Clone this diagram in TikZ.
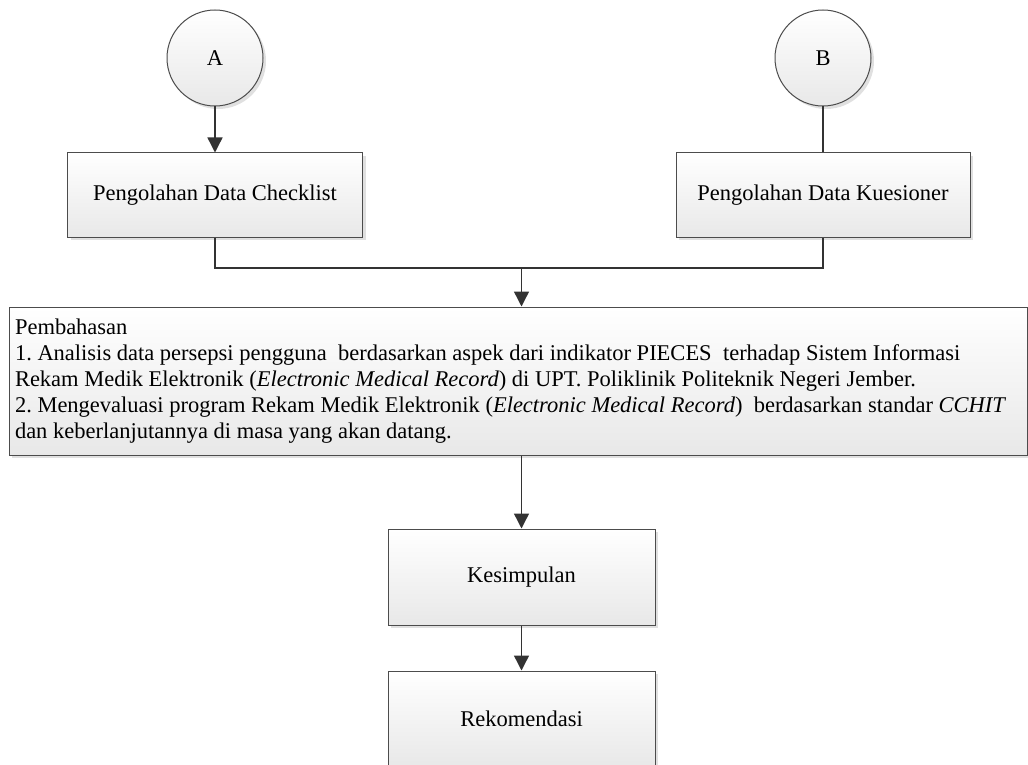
\documentclass[tikz,border=0pt]{standalone}
\usepackage{fontspec}
\setmainfont{Liberation Serif}
\usetikzlibrary{arrows.meta,shadows}

\begin{document}
\begin{tikzpicture}[x=0.5pt, y=-0.5pt,
        font=\fontsize{11.25pt}{13pt}\selectfont\frenchspacing,
        flowbox/.style={rectangle, draw=black!70, line width=0.5pt, top color=white, bottom color=black!9,
            drop shadow={shadow xshift=1.5pt, shadow yshift=-1.5pt, fill=black, opacity=0.12}},
        connnode/.style={circle, draw=black!70, line width=0.5pt, top color=white, bottom color=black!9,
            drop shadow={shadow xshift=1.5pt, shadow yshift=-1.5pt, fill=black, opacity=0.12}, minimum size=48pt},
        flowline/.style={draw=black!80, line width=0.7pt},
        flowarrow/.style={flowline, -{Triangle[length=7.5pt, width=7.5pt]}},
        ]
                \useasboundingbox (0,0) rectangle (1028,765);

                \node[connnode] at(215,58) (A) {A};
                \node[connnode] at(823,58) (B) {B};
                \node[flowbox, minimum width=147.5pt, minimum height=42pt] at(215,195) (ckl) {Pengolahan Data Checklist};
                \node[flowbox, minimum width=147pt, minimum height=42pt] at(823,195) (kues) {Pengolahan Data Kuesioner};
                \node[flowbox, text width=503pt, inner xsep=3pt, minimum height=74pt, align=left,
                    execute at begin node={\spaceskip=0.25em plus 0.02em}] at(518,381) (bahas) {Pembahasan\\
                    1. Analisis data persepsi pengguna\ \ berdasarkan aspek dari indikator PIECES\ \ terhadap Sistem Informasi\\
                    Rekam Medik Elektronik (\textit{Electronic Medical Record}) di UPT. Poliklinik Politeknik Negeri Jember.\\
                    2. Mengevaluasi program Rekam Medik Elektronik (\textit{Electronic Medical Record})\ \ berdasarkan standar \textit{CCHIT}\\
                    dan keberlanjutannya di masa yang akan datang.};
                \node[flowbox, minimum width=133.5pt, minimum height=48pt] at(521.5,577) (kes) {Kesimpulan};
                \node[flowbox, minimum width=133.5pt, minimum height=48pt] at(521.5,719) (rek) {Rekomendasi};
                \coordinate (jn) at(521.5,268);

                \draw[flowarrow] (A)  --  (ckl) ;
                \draw[flowline] (B)  --  (kues) ;
                \draw[flowline] (ckl.south)  |-  (jn)  -|  (kues.south) ;
                \draw[flowarrow] (jn)  --  (jn |- bahas.north) ;
                \draw[flowarrow] (bahas.south -| kes.north)  --  (kes.north) ;
                \draw[flowarrow] (kes)  --  (rek) ;

            \end{tikzpicture}
\end{document}
